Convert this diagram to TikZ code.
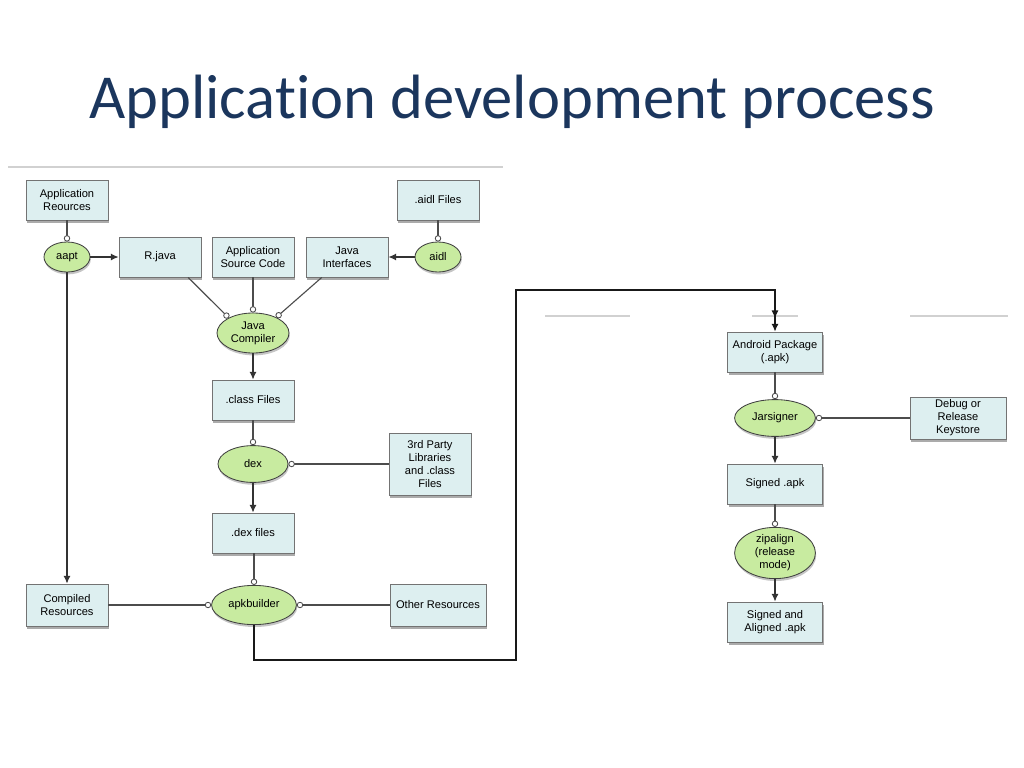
\documentclass[tikz,border=0pt]{standalone}
\usepackage{fontspec}
\setmainfont{Liberation Sans}
\newfontfamily\titlefont[Ligatures=NoCommon]{Carlito}
\usetikzlibrary{arrows.meta,shapes.geometric,shadows}
\definecolor{boxfill}{HTML}{DDEFF0}
\definecolor{procfill}{HTML}{C8EBA0}
\definecolor{titleblue}{HTML}{1B365D}

\begin{document}
\begin{tikzpicture}[
    x=0.025cm, y=-0.025cm,
    box/.style={draw=black!55, fill=boxfill, minimum width=2.05cm,
                minimum height=1.0cm, align=center, inner sep=1pt,
                line width=0.6pt, font=\fontsize{7.9pt}{9.2pt}\selectfont,
                drop shadow={shadow xshift=0.03cm, shadow yshift=-0.08cm,
                             fill=black!60, opacity=0.55}},
    proc/.style={ellipse, draw=black!75, fill=procfill, inner sep=0pt,
                 line width=0.6pt, align=center, font=\fontsize{7.9pt}{9.2pt}\selectfont,
                 drop shadow={shadow xshift=0.02cm, shadow yshift=-0.06cm,
                              fill=black!45, opacity=0.5}},
    arr/.style={-{Latex[length=5.5pt,width=5pt]}, black!80, line width=0.8pt},
    con/.style={-{Circle[open,length=4.5pt,fill=white,line width=0.6pt]}, black!70, line width=0.8pt},
    ghost/.style={black!18, line width=0.8pt}
]
    \useasboundingbox (0,0) rectangle (1024,768);

    \node[font=\titlefont\fontsize{44.5pt}{50pt}\selectfont, text=titleblue]
          (title) at (512,102) {Application development process};

    % faint rulers of the slide
    \draw[ghost] (8,167) -- (503,167);
    \draw[ghost] (545,316) -- (630,316);
    \draw[ghost] (752,316) -- (798,316);
    \draw[ghost] (910,316) -- (1008,316);

    % left column
    \node[box] (appres) at (67,200)  {Application\\Reources};
    \node[proc, minimum width=1.15cm, minimum height=0.75cm] (aapt) at (67,257) {aapt};
    \node[box] (rjava)  at (160,257) {R.java};
    \node[box] (appsrc) at (253,257) {Application\\Source Code};
    \node[box] (jint)   at (347,257) {Java\\Interfaces};
    \node[proc, minimum width=1.15cm, minimum height=0.75cm] (aidl) at (438,257) {aidl};
    \node[box] (aidlf)  at (438,200) {.aidl Files};

    \node[proc, minimum width=1.8cm, minimum height=1.0cm] (jc) at (253,333) {Java\\Compiler};
    \node[box] (classf) at (253,400) {.class Files};
    \node[proc, minimum width=1.75cm, minimum height=0.92cm] (dex) at (253,464) {dex};
    \node[box, minimum height=1.55cm] (third) at (430,464) {3rd Party\\Libraries\\and .class\\Files};
    \node[box] (dexf)   at (253,533) {.dex files};
    \node[proc, minimum width=2.12cm, minimum height=0.98cm] (apkb) at (254,605) {apkbuilder};
    \node[box, minimum height=1.05cm] (compres) at (67,605) {Compiled\\Resources};
    \node[box, minimum width=2.4cm, minimum height=1.05cm] (othres) at (438,605) {Other Resources};

    % right column
    \node[box, minimum width=2.38cm] (apk) at (775,352) {Android Package\\(.apk)};
    \node[proc, minimum width=2.02cm, minimum height=0.92cm] (jar) at (775,418) {Jarsigner};
    \node[box, minimum width=2.4cm, minimum height=1.05cm] (keys) at (958,418) {Debug or\\Release\\Keystore};
    \node[box, minimum width=2.38cm] (sapk) at (775,484) {Signed .apk};
    \node[proc, minimum width=2.02cm, minimum height=1.15cm] (zip) at (775,553) {zipalign\\(release\\mode)};
    \node[box, minimum width=2.38cm] (saapk) at (775,622) {Signed and\\Aligned .apk};

    \coordinate (turnB) at (516,660);
    \coordinate (turnC) at (516,290);
    \coordinate (turnD) at (775,290);

    % connectors
    \draw[con] (appres) -- (aapt);
    \draw[arr] (aapt) -- (rjava);
    \draw[arr] (aapt) -- (compres);
    \draw[con] (aidlf) -- (aidl);
    \draw[arr] (aidl) -- (jint);
    \draw[con] (rjava.-36) -- (jc.148);
    \draw[con] (appsrc) -- (jc);
    \draw[con] (jint.-141) -- (jc.34);
    \draw[arr] (jc) -- (classf);
    \draw[con] (classf) -- (dex);
    \draw[con] (third) -- (dex);
    \draw[arr] (dex) -- (dexf);
    \draw[con] (dexf.south -| apkb.north) -- (apkb);
    \draw[con] (compres) -- (apkb);
    \draw[con] (othres) -- (apkb);
    \draw[-{Latex[length=5.5pt,width=5pt,sep=4pt]Latex[length=5.5pt,width=5pt]}, black!90, line width=0.8pt]
        (apkb.south) |- (turnB) -- (turnC) -- (turnD) -- (apk.north);
    \draw[con] (apk) -- (jar);
    \draw[con] (keys) -- (jar);
    \draw[arr] (jar) -- (sapk);
    \draw[con] (sapk) -- (zip);
    \draw[arr] (zip) -- (saapk);
\end{tikzpicture}
\end{document}
